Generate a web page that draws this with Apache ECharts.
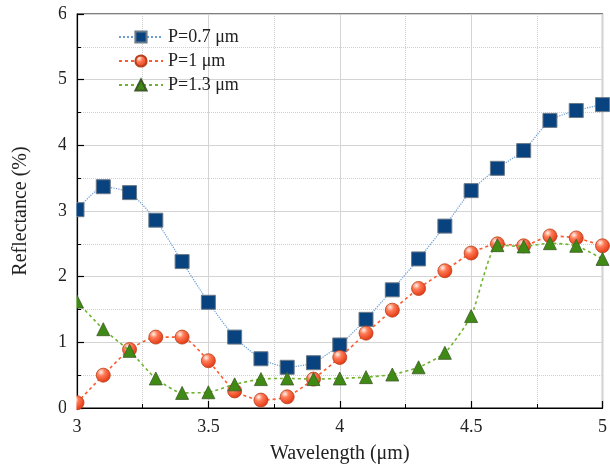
<!DOCTYPE html>
<html><head><meta charset="utf-8">
<script src="https://cdn.jsdelivr.net/npm/echarts@6/dist/echarts.min.js"></script>
<style>html,body{margin:0;padding:0;background:#fff}#c{width:610px;height:469px}</style>
</head><body><div id="c"></div>
<script>
const wavelengths = [3.0,3.1,3.2,3.3,3.4,3.5,3.6,3.7,3.8,3.9,4.0,4.1,4.2,4.3,4.4,4.5,4.6,4.7,4.8,4.9,5.0];
const seriesNames = ['P=0.7 μm','P=1 μm','P=1.3 μm'];
const p07 = [3.02,3.37,3.28,2.86,2.23,1.61,1.08,0.75,0.62,0.69,0.96,1.35,1.80,2.27,2.77,3.31,3.65,3.92,4.38,4.53,4.62];
const p10 = [0.08,0.50,0.89,1.08,1.08,0.72,0.26,0.12,0.17,0.44,0.77,1.14,1.49,1.82,2.09,2.36,2.50,2.47,2.62,2.59,2.47];
const p13 = [1.62,1.20,0.87,0.45,0.23,0.24,0.36,0.44,0.45,0.44,0.45,0.47,0.51,0.62,0.84,1.40,2.48,2.46,2.51,2.47,2.27];
const xTicks = [3,3.5,4,4.5,5];
const yTicks = [0,1,2,3,4,5,6];

const font = 'Liberation Serif, Times New Roman, serif';
const chart = echarts.init(document.getElementById('c'));
const pair = (arr) => wavelengths.map((w,i)=>[w,arr[i]]);
const redGrad = new echarts.graphic.RadialGradient(0.35,0.3,0.75,[
  {offset:0,color:'#fff4ee'},{offset:0.35,color:'#ff7a55'},{offset:1,color:'#e0300c'}]);
chart.setOption({
  animation:false,
  grid:{left:77,right:1,top:14,bottom:56,show:true,borderColor:'#000',borderWidth:1.2,backgroundColor:'transparent'},
  legend:{
    orient:'vertical',left:113,top:23,itemWidth:44,itemHeight:14,itemGap:6,
    textStyle:{fontFamily:font,fontSize:18,color:'#222'},
    data:seriesNames
  },
  graphic:[{type:'rect',shape:{x:66,y:8,width:10.4,height:405.5},style:{fill:'#fff'},z:100,silent:true}],
  xAxis:{
    type:'value',min:3,max:5,interval:0.5,
    name:'Wavelength (μm)',nameLocation:'middle',nameGap:36,
    nameTextStyle:{fontFamily:font,fontSize:20,color:'#222'},
    axisLine:{lineStyle:{color:'#000',width:1.2}},
    axisTick:{inside:true,length:7,lineStyle:{color:'#000',width:1.2}},
    minorTick:{show:true,splitNumber:2,length:4,lineStyle:{color:'#000',width:1}},
    axisLabel:{fontFamily:font,fontSize:18,color:'#222',margin:10,
      formatter:v=>xTicks.includes(v)?String(v):''},
    splitLine:{show:true,lineStyle:{color:'#d4d4d4',width:1}},
    minorSplitLine:{show:true,lineStyle:{color:'#d0d0d0',type:'dotted',width:1}}
  },
  yAxis:{
    type:'value',min:0,max:6,interval:1,
    name:'Reflectance (%)',nameLocation:'middle',nameGap:46,
    nameTextStyle:{fontFamily:font,fontSize:20,color:'#222'},
    axisLine:{lineStyle:{color:'#000',width:1.2}},
    axisTick:{inside:true,length:7,lineStyle:{color:'#000',width:1.2}},
    minorTick:{show:true,splitNumber:2,length:4,lineStyle:{color:'#000',width:1}},
    axisLabel:{fontFamily:font,fontSize:18,color:'#222',margin:10,
      formatter:v=>yTicks.includes(v)?String(v):''},
    splitLine:{show:true,lineStyle:{color:'#d4d4d4',width:1}},
    minorSplitLine:{show:true,lineStyle:{color:'#d0d0d0',type:'dotted',width:1}}
  },
  series:[
    {name:seriesNames[0],type:'line',data:pair(p07),smooth:0.2,
     symbol:'rect',symbolSize:14,
     itemStyle:{color:'#08437f',borderColor:'#6b7a8a',borderWidth:1},
     lineStyle:{color:'#6a9bd4',width:1.2,type:'dotted'},z:3},
    {name:seriesNames[1],type:'line',data:pair(p10),smooth:0.2,
     symbol:'circle',symbolSize:14,
     itemStyle:{color:redGrad,borderColor:'#b8401c',borderWidth:0.8},
     lineStyle:{color:'#ff5a2e',width:1.6,type:[3,3]},z:4},
    {name:seriesNames[2],type:'line',data:pair(p13),smooth:0.2,
     symbol:'triangle',symbolSize:13,
     itemStyle:{color:'#3f8a14',borderColor:'#3d5a28',borderWidth:0.8},
     lineStyle:{color:'#6fb32e',width:1.6,type:[3,3]},z:5}
  ]
});
</script></body></html>
